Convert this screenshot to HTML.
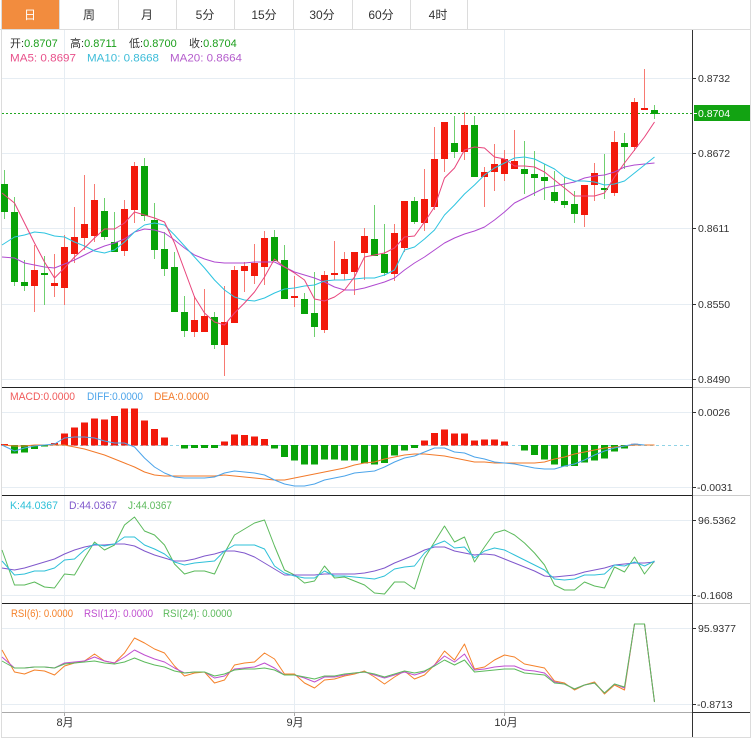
<!DOCTYPE html>
<html><head><meta charset="utf-8"><style>
html,body{margin:0;padding:0;background:#fff;width:755px;height:742px;overflow:hidden}
svg{display:block}
text{font-family:"Liberation Sans","Noto Sans CJK SC",sans-serif}
</style></head><body>
<svg width="755" height="742" viewBox="0 0 755 742" xmlns="http://www.w3.org/2000/svg">
<rect x="0" y="0" width="755" height="742" fill="#fff"/>
<!-- tabs -->
<rect x="1" y="0" width="58" height="29" fill="#f28c3e"/>
<g stroke="#dcdcdc" stroke-width="1" shape-rendering="crispEdges">
<line x1="59.5" y1="0" x2="59.5" y2="29"/><line x1="118.5" y1="0" x2="118.5" y2="29"/>
<line x1="176.5" y1="0" x2="176.5" y2="29"/><line x1="234.5" y1="0" x2="234.5" y2="29"/>
<line x1="293.5" y1="0" x2="293.5" y2="29"/><line x1="352.5" y1="0" x2="352.5" y2="29"/>
<line x1="410.5" y1="0" x2="410.5" y2="29"/><line x1="467.5" y1="0" x2="467.5" y2="29"/>
<line x1="0" y1="29.5" x2="751" y2="29.5"/>
<line x1="1.5" y1="0" x2="1.5" y2="738"/>
<line x1="750.5" y1="0" x2="750.5" y2="738"/>
<line x1="1" y1="737.5" x2="751" y2="737.5"/>
</g>
<g font-size="12" fill="#333" text-anchor="middle">
<text x="30" y="19" fill="#fff">日</text><text x="89" y="19">周</text><text x="147" y="19">月</text>
<text x="205" y="19">5分</text><text x="264" y="19">15分</text><text x="322" y="19">30分</text>
<text x="381" y="19">60分</text><text x="438" y="19">4时</text>
</g>
<!-- grid -->
<g stroke="#e6edf3" stroke-width="1" shape-rendering="crispEdges">
<line x1="64.5" y1="30" x2="64.5" y2="712"/><line x1="294.5" y1="30" x2="294.5" y2="712"/><line x1="504.5" y1="30" x2="504.5" y2="712"/>
<line x1="2" y1="78.5" x2="692" y2="78.5"/><line x1="2" y1="153.5" x2="692" y2="153.5"/><line x1="2" y1="228.5" x2="692" y2="228.5"/>
<line x1="2" y1="304.5" x2="692" y2="304.5"/><line x1="2" y1="379.5" x2="692" y2="379.5"/>
<line x1="2" y1="412.5" x2="692" y2="412.5"/><line x1="2" y1="487.5" x2="692" y2="487.5"/>
<line x1="2" y1="520.5" x2="692" y2="520.5"/><line x1="2" y1="595.5" x2="692" y2="595.5"/>
<line x1="2" y1="628.5" x2="692" y2="628.5"/><line x1="2" y1="704.5" x2="692" y2="704.5"/>
</g>
<!-- header text -->
<g font-size="11">
<text x="10" y="47" fill="#333">开:<tspan fill="#1a9e1a">0.8707</tspan></text>
<text x="70" y="47" fill="#333">高:<tspan fill="#1a9e1a">0.8711</tspan></text>
<text x="129" y="47" fill="#333">低:<tspan fill="#1a9e1a">0.8700</tspan></text>
<text x="189" y="47" fill="#333">收:<tspan fill="#1a9e1a">0.8704</tspan></text>
<text x="10" y="61.5" fill="#e8508a" textLength="66" lengthAdjust="spacingAndGlyphs">MA5: 0.8697</text>
<text x="87" y="61.5" fill="#3cbcd8" textLength="72" lengthAdjust="spacingAndGlyphs">MA10: 0.8668</text>
<text x="170" y="61.5" fill="#b45ccc" textLength="72" lengthAdjust="spacingAndGlyphs">MA20: 0.8664</text>
<text x="10" y="400" fill="#f05a5a" textLength="65" lengthAdjust="spacingAndGlyphs">MACD:0.0000</text>
<text x="87" y="400" fill="#4ca4ea" textLength="56" lengthAdjust="spacingAndGlyphs">DIFF:0.0000</text>
<text x="154" y="400" fill="#f27a2a" textLength="55" lengthAdjust="spacingAndGlyphs">DEA:0.0000</text>
<text x="10" y="509" fill="#2ec0d8" textLength="48" lengthAdjust="spacingAndGlyphs">K:44.0367</text>
<text x="69" y="509" fill="#8058cc" textLength="48" lengthAdjust="spacingAndGlyphs">D:44.0367</text>
<text x="128" y="509" fill="#5cba5c" textLength="44" lengthAdjust="spacingAndGlyphs">J:44.0367</text>
<text x="11" y="617" fill="#f5822a" textLength="62" lengthAdjust="spacingAndGlyphs">RSI(6): 0.0000</text>
<text x="84" y="617" fill="#c050d0" textLength="69" lengthAdjust="spacingAndGlyphs">RSI(12): 0.0000</text>
<text x="163" y="617" fill="#5cba5c" textLength="69" lengthAdjust="spacingAndGlyphs">RSI(24): 0.0000</text>
</g>
<!-- price line -->
<line x1="2" y1="113.5" x2="692" y2="113.5" stroke="#22a822" stroke-width="1" stroke-dasharray="2,2"/>
<!-- candles wicks -->
<g stroke="#f77a72" stroke-width="1" shape-rendering="crispEdges">
<line x1="34.5" y1="245" x2="34.5" y2="312"/><line x1="54.5" y1="254" x2="54.5" y2="297"/>
<line x1="64.5" y1="235" x2="64.5" y2="305"/><line x1="74.5" y1="207" x2="74.5" y2="263"/>
<line x1="84.5" y1="175" x2="84.5" y2="250"/><line x1="94.5" y1="184" x2="94.5" y2="242"/>
<line x1="124.5" y1="200" x2="124.5" y2="256"/><line x1="134.5" y1="162" x2="134.5" y2="223"/>
<line x1="194.5" y1="296" x2="194.5" y2="337"/><line x1="204.5" y1="289" x2="204.5" y2="332"/>
<line x1="224.5" y1="286" x2="224.5" y2="376"/><line x1="234.5" y1="266" x2="234.5" y2="323"/>
<line x1="244.5" y1="262" x2="244.5" y2="292"/><line x1="254.5" y1="244" x2="254.5" y2="284"/>
<line x1="264.5" y1="231" x2="264.5" y2="285"/><line x1="294.5" y1="276" x2="294.5" y2="307"/>
<line x1="324.5" y1="271" x2="324.5" y2="333"/><line x1="334.5" y1="241" x2="334.5" y2="280"/>
<line x1="344.5" y1="252" x2="344.5" y2="280"/><line x1="354.5" y1="252" x2="354.5" y2="295"/>
<line x1="364.5" y1="228" x2="364.5" y2="280"/><line x1="394.5" y1="224" x2="394.5" y2="281"/>
<line x1="404.5" y1="201" x2="404.5" y2="252"/><line x1="424.5" y1="169" x2="424.5" y2="231"/>
<line x1="434.5" y1="127" x2="434.5" y2="210"/><line x1="444.5" y1="122" x2="444.5" y2="172"/>
<line x1="464.5" y1="112" x2="464.5" y2="160"/><line x1="484.5" y1="167" x2="484.5" y2="207"/>
<line x1="494.5" y1="144" x2="494.5" y2="191"/><line x1="504.5" y1="150" x2="504.5" y2="181"/>
<line x1="514.5" y1="130" x2="514.5" y2="169"/><line x1="584.5" y1="185" x2="584.5" y2="227"/>
<line x1="594.5" y1="163" x2="594.5" y2="201"/><line x1="614.5" y1="131" x2="614.5" y2="196"/>
<line x1="634.5" y1="98" x2="634.5" y2="151"/><line x1="644.5" y1="69" x2="644.5" y2="110"/>
</g>
<g stroke="#6fcf6f" stroke-width="1" shape-rendering="crispEdges">
<line x1="4.5" y1="170" x2="4.5" y2="219"/><line x1="14.5" y1="197" x2="14.5" y2="286"/>
<line x1="24.5" y1="260" x2="24.5" y2="291"/><line x1="44.5" y1="256" x2="44.5" y2="305"/>
<line x1="104.5" y1="198" x2="104.5" y2="240"/><line x1="114.5" y1="212" x2="114.5" y2="252"/>
<line x1="144.5" y1="158" x2="144.5" y2="221"/><line x1="154.5" y1="203" x2="154.5" y2="259"/>
<line x1="164.5" y1="232" x2="164.5" y2="276"/><line x1="174.5" y1="252" x2="174.5" y2="312"/>
<line x1="184.5" y1="296" x2="184.5" y2="337"/><line x1="214.5" y1="312" x2="214.5" y2="349"/>
<line x1="274.5" y1="230" x2="274.5" y2="261"/><line x1="284.5" y1="245" x2="284.5" y2="299"/>
<line x1="304.5" y1="293" x2="304.5" y2="314"/><line x1="314.5" y1="272" x2="314.5" y2="337"/>
<line x1="374.5" y1="205" x2="374.5" y2="256"/><line x1="384.5" y1="224" x2="384.5" y2="276"/>
<line x1="414.5" y1="197" x2="414.5" y2="224"/><line x1="454.5" y1="116" x2="454.5" y2="158"/>
<line x1="474.5" y1="116" x2="474.5" y2="177"/><line x1="524.5" y1="141" x2="524.5" y2="194"/>
<line x1="534.5" y1="151" x2="534.5" y2="196"/><line x1="544.5" y1="164" x2="544.5" y2="200"/>
<line x1="554.5" y1="171" x2="554.5" y2="203"/><line x1="564.5" y1="177" x2="564.5" y2="208"/>
<line x1="574.5" y1="191" x2="574.5" y2="223"/><line x1="604.5" y1="154" x2="604.5" y2="199"/>
<line x1="624.5" y1="133" x2="624.5" y2="169"/><line x1="654.5" y1="105" x2="654.5" y2="119"/>
</g>
<!-- candle bodies -->
<g fill="#f2190b" shape-rendering="crispEdges">
<rect x="31" y="270" width="7" height="16"/><rect x="51" y="283" width="7" height="3"/>
<rect x="61" y="247" width="7" height="41"/><rect x="71" y="237" width="7" height="17"/>
<rect x="81" y="224" width="7" height="14"/><rect x="91" y="200" width="7" height="36"/>
<rect x="121" y="209" width="7" height="42"/><rect x="131" y="166" width="7" height="44"/>
<rect x="191" y="320" width="7" height="12"/><rect x="201" y="316" width="7" height="16"/>
<rect x="221" y="322" width="7" height="23"/><rect x="231" y="270" width="7" height="53"/>
<rect x="241" y="266" width="7" height="5"/><rect x="251" y="263" width="7" height="13"/>
<rect x="261" y="238" width="7" height="29"/><rect x="291" y="296" width="7" height="2"/>
<rect x="321" y="275" width="7" height="55"/><rect x="331" y="273" width="7" height="2"/>
<rect x="341" y="259" width="7" height="15"/><rect x="351" y="252" width="7" height="20"/>
<rect x="361" y="236" width="7" height="17"/><rect x="391" y="233" width="7" height="41"/>
<rect x="401" y="201" width="7" height="47"/><rect x="421" y="199" width="7" height="24"/>
<rect x="431" y="159" width="7" height="48"/><rect x="441" y="122" width="7" height="37"/>
<rect x="461" y="125" width="7" height="27"/><rect x="481" y="172" width="7" height="5"/>
<rect x="491" y="164" width="7" height="8"/><rect x="501" y="159" width="7" height="15"/>
<rect x="511" y="161" width="7" height="8"/><rect x="581" y="185" width="7" height="30"/>
<rect x="591" y="173" width="7" height="12"/><rect x="611" y="142" width="7" height="51"/>
<rect x="631" y="102" width="7" height="45"/><rect x="641" y="108" width="7" height="2"/>
</g>
<g fill="#08a308" shape-rendering="crispEdges">
<rect x="1" y="184" width="7" height="28"/><rect x="11" y="212" width="7" height="70"/>
<rect x="21" y="282" width="7" height="4"/><rect x="41" y="273" width="7" height="2"/>
<rect x="101" y="211" width="7" height="26"/><rect x="111" y="242" width="7" height="10"/>
<rect x="141" y="166" width="7" height="50"/><rect x="151" y="220" width="7" height="30"/>
<rect x="161" y="249" width="7" height="20"/><rect x="171" y="267" width="7" height="45"/>
<rect x="181" y="312" width="7" height="19"/><rect x="211" y="317" width="7" height="28"/>
<rect x="271" y="237" width="7" height="24"/><rect x="281" y="260" width="7" height="39"/>
<rect x="301" y="299" width="7" height="15"/><rect x="311" y="313" width="7" height="14"/>
<rect x="371" y="239" width="7" height="17"/><rect x="381" y="254" width="7" height="19"/>
<rect x="411" y="201" width="7" height="21"/><rect x="451" y="143" width="7" height="9"/>
<rect x="471" y="125" width="7" height="52"/><rect x="521" y="169" width="7" height="5"/>
<rect x="531" y="174" width="7" height="4"/><rect x="541" y="177" width="7" height="4"/>
<rect x="551" y="192" width="7" height="9"/><rect x="561" y="201" width="7" height="4"/>
<rect x="571" y="204" width="7" height="10"/><rect x="601" y="188" width="7" height="2"/>
<rect x="621" y="143" width="7" height="4"/><rect x="651" y="110" width="7" height="4"/>
</g>
<!-- MA lines -->
<g fill="none" stroke-width="1" stroke-linejoin="round">
<polyline stroke="#b04ad0" points="2,257 14.5,258 24.5,263 34.5,265 44.5,267 54.5,268 64.5,264 74.5,260 84.5,255 94.5,250 104.5,246 114.5,243 124.5,239 134.5,232 144.5,229 154.5,230 164.5,233 174.5,240 184.5,248 194.5,255 204.5,259 214.5,262 224.5,263 234.5,263 244.5,263 254.5,262 264.5,262 274.5,262 284.5,267 294.5,272 304.5,275 314.5,278 324.5,282 334.5,287 344.5,290 354.5,290 364.5,288 374.5,285 384.5,282 394.5,278 404.5,270 414.5,263 424.5,257 434.5,250 444.5,243 454.5,238 464.5,234 474.5,231 484.5,227 494.5,220 504.5,212 514.5,203 524.5,198 534.5,193 544.5,188 554.5,186 564.5,184 574.5,182 584.5,178 594.5,176 604.5,175 614.5,172 624.5,167 634.5,165 644.5,164 654.5,163"/>
<polyline stroke="#2ec4e0" points="2,245 14.5,237 24.5,235 34.5,232 44.5,233 54.5,236 64.5,237 74.5,242 84.5,246 94.5,251 104.5,253 114.5,250 124.5,242 134.5,232 144.5,225 154.5,223 164.5,225 174.5,235 184.5,246 194.5,257 204.5,268 214.5,280 224.5,290 234.5,297 244.5,300 254.5,301 264.5,298 274.5,293 284.5,289 294.5,288 304.5,286 314.5,285 324.5,281 334.5,280 344.5,280 354.5,279 364.5,278 374.5,278 384.5,275 394.5,270 404.5,250 414.5,247 424.5,239 434.5,230 444.5,215 454.5,205 464.5,194 474.5,185 484.5,175 494.5,168 504.5,163 514.5,158 524.5,157 534.5,159 544.5,164 554.5,169 564.5,177 574.5,181 584.5,181 594.5,182 604.5,185 614.5,184 624.5,181 634.5,173 644.5,165 654.5,157"/>
<polyline stroke="#e8447c" points="2,193 4.5,195 14.5,203 24.5,223 34.5,243 44.5,262 54.5,278 64.5,268 74.5,257 84.5,248 94.5,238 104.5,229 114.5,229 124.5,223 134.5,212 144.5,215 154.5,218 164.5,222 174.5,243 184.5,270 194.5,297 204.5,313 214.5,322 224.5,325 234.5,313 244.5,303 254.5,292 264.5,277 274.5,259 284.5,267 294.5,273 304.5,280 314.5,299 324.5,301 334.5,297 344.5,290 354.5,277 364.5,257 374.5,255 384.5,253 394.5,248 404.5,237 414.5,236 424.5,222 434.5,207 444.5,178 454.5,168 464.5,150 474.5,147 484.5,148 494.5,157 504.5,159 514.5,166 524.5,166 534.5,167 544.5,172 554.5,180 564.5,188 574.5,196 584.5,196 594.5,196 604.5,193 614.5,177 624.5,163 634.5,150 644.5,137 654.5,122"/>
</g>
<!-- MACD -->
<line x1="2" y1="445.5" x2="692" y2="445.5" stroke="#8fd3e6" stroke-width="1" stroke-dasharray="3,3"/>
<g fill="#f2190b" shape-rendering="crispEdges">
<rect x="1" y="444" width="7" height="1.5"/><rect x="51" y="443" width="7" height="2.5"/>
<rect x="61" y="433.3" width="7" height="12.2"/><rect x="71" y="427.7" width="7" height="17.8"/>
<rect x="81" y="422.7" width="7" height="22.8"/><rect x="91" y="418.7" width="7" height="26.8"/>
<rect x="101" y="419.7" width="7" height="25.8"/><rect x="111" y="416" width="7" height="29.5"/>
<rect x="121" y="408.7" width="7" height="36.8"/><rect x="131" y="408.7" width="7" height="36.8"/>
<rect x="141" y="420.3" width="7" height="25.2"/><rect x="151" y="429" width="7" height="16.5"/>
<rect x="161" y="437.3" width="7" height="8.2"/>
<rect x="221" y="441.7" width="7" height="3.8"/><rect x="231" y="434.7" width="7" height="10.8"/>
<rect x="241" y="435" width="7" height="10.5"/><rect x="251" y="436.7" width="7" height="8.8"/>
<rect x="261" y="439" width="7" height="6.5"/>
<rect x="421" y="440.7" width="7" height="4.8"/><rect x="431" y="433" width="7" height="12.5"/>
<rect x="441" y="429.7" width="7" height="15.8"/><rect x="451" y="433.7" width="7" height="11.8"/>
<rect x="461" y="433.7" width="7" height="11.8"/><rect x="471" y="440.7" width="7" height="4.8"/>
<rect x="481" y="439.7" width="7" height="5.8"/><rect x="491" y="439.7" width="7" height="5.8"/>
<rect x="501" y="441.7" width="7" height="3.8"/>
<rect x="631" y="443.7" width="7" height="1.8" fill="#f4a0a0"/>
</g>
<g fill="#08a308" shape-rendering="crispEdges">
<rect x="11" y="445" width="7" height="8.7"/><rect x="21" y="445" width="7" height="7.3"/>
<rect x="31" y="445" width="7" height="4"/><rect x="41" y="445" width="7" height="1.3"/>
<rect x="181" y="445" width="7" height="3.3"/><rect x="191" y="445" width="7" height="3"/>
<rect x="201" y="445" width="7" height="3"/><rect x="211" y="445" width="7" height="3"/>
<rect x="271" y="445" width="7" height="3.3"/><rect x="281" y="445" width="7" height="12"/>
<rect x="291" y="445" width="7" height="15.3"/><rect x="301" y="445" width="7" height="19.7"/>
<rect x="311" y="445" width="7" height="19.7"/><rect x="321" y="445" width="7" height="14.3"/>
<rect x="331" y="445" width="7" height="14.7"/><rect x="341" y="445" width="7" height="15.7"/>
<rect x="351" y="445" width="7" height="15.7"/><rect x="361" y="445" width="7" height="18.3"/>
<rect x="371" y="445" width="7" height="19.7"/><rect x="381" y="445" width="7" height="18"/>
<rect x="391" y="445" width="7" height="10.3"/><rect x="401" y="445" width="7" height="5.3"/>
<rect x="411" y="445" width="7" height="3"/>
<rect x="521" y="445" width="7" height="5.3"/><rect x="531" y="445" width="7" height="10"/>
<rect x="541" y="445" width="7" height="14.7"/><rect x="551" y="445" width="7" height="19.7"/>
<rect x="561" y="445" width="7" height="21.7"/><rect x="571" y="445" width="7" height="21"/>
<rect x="581" y="445" width="7" height="17.3"/><rect x="591" y="445" width="7" height="15.7"/>
<rect x="601" y="445" width="7" height="13.7"/><rect x="611" y="445" width="7" height="6.3"/>
<rect x="621" y="445" width="7" height="3.3"/>
</g>
<g fill="none" stroke-width="1" stroke-linejoin="round">
<polyline stroke="#f27a2a" points="2,445 14.5,446 24.5,446 34.5,445 44.5,445 54.5,445 64.5,445 74.5,447 84.5,449 94.5,452 104.5,455 114.5,459 124.5,463 134.5,467 144.5,472 154.5,475 164.5,476 174.5,476 184.5,476 194.5,476 204.5,476 214.5,476 224.5,475 234.5,476 244.5,477 254.5,478 264.5,479 274.5,480 284.5,480 294.5,478 304.5,476 314.5,474 324.5,472 334.5,470 344.5,468 354.5,465 364.5,463 374.5,462 384.5,459 394.5,457 404.5,455 414.5,454 424.5,454 434.5,455 444.5,456 454.5,458 464.5,460 474.5,462 484.5,462 494.5,463 504.5,463 514.5,463 524.5,463 534.5,463 544.5,462 554.5,459 564.5,457 574.5,454 584.5,452 594.5,450 604.5,448 614.5,447 624.5,446 634.5,445 644.5,445 654.5,445"/>
<polyline stroke="#4ca4ea" points="2,445 14.5,451 24.5,448 34.5,446 44.5,445 54.5,444 64.5,438 74.5,437 84.5,437 94.5,438 104.5,441 114.5,443 124.5,443 134.5,447 144.5,458 154.5,467 164.5,473 174.5,477 184.5,478 194.5,478 204.5,478 214.5,477 224.5,473 234.5,471 244.5,472 254.5,473 264.5,475 274.5,480 284.5,484 294.5,486 304.5,486 314.5,484 324.5,480 334.5,478 344.5,476 354.5,473 364.5,472 374.5,471 384.5,467 394.5,462 404.5,458 414.5,456 424.5,452 434.5,448 444.5,448 454.5,452 464.5,453 474.5,457 484.5,459 494.5,462 504.5,463 514.5,464 524.5,466 534.5,468 544.5,469 554.5,469 564.5,466 574.5,464 584.5,460 594.5,455 604.5,451 614.5,448 624.5,446 634.5,444 644.5,445"/>
</g>
<!-- KDJ -->
<g fill="none" stroke-width="1" stroke-linejoin="round">
<polyline stroke="#5cba5c" points="2,550 14.5,585 24.5,585 34.5,582 44.5,587 54.5,588 64.5,574 74.5,575 84.5,558 94.5,542 104.5,550 114.5,545 124.5,525 134.5,517 144.5,531 154.5,535 164.5,545 174.5,564 184.5,574 194.5,571 204.5,571 214.5,574 224.5,553 234.5,535 244.5,529 254.5,523 264.5,520 274.5,546 284.5,570 294.5,575 304.5,583 314.5,581 324.5,566 334.5,578 344.5,577 354.5,581 364.5,585 374.5,593 384.5,594 394.5,582 404.5,582 414.5,589 424.5,558 434.5,542 444.5,526 454.5,542 464.5,537 474.5,562 484.5,547 494.5,533 504.5,530 514.5,535 524.5,543 534.5,553 544.5,565 554.5,585 564.5,590 574.5,590 584.5,582 594.5,586 604.5,588 614.5,567 624.5,572 634.5,557 644.5,574 654.5,561"/>
<polyline stroke="#8058cc" points="2,568 14.5,570 24.5,568 34.5,565 44.5,562 54.5,559 64.5,554 74.5,550 84.5,547 94.5,545 104.5,545 114.5,544 124.5,544 134.5,546 144.5,551 154.5,555 164.5,558 174.5,561 184.5,561 194.5,559 204.5,556 214.5,554 224.5,551 234.5,551 244.5,553 254.5,557 264.5,563 274.5,569 284.5,575 294.5,575 304.5,575 314.5,575 324.5,574 334.5,574 344.5,574 354.5,574 364.5,573 374.5,571 384.5,568 394.5,563 404.5,559 414.5,555 424.5,550 434.5,547 444.5,547 454.5,551 464.5,553 474.5,555 484.5,554 494.5,555 504.5,559 514.5,563 524.5,567 534.5,571 544.5,576 554.5,577 564.5,576 574.5,575 584.5,572 594.5,570 604.5,568 614.5,565 624.5,564 634.5,563 644.5,563 654.5,562"/>
<polyline stroke="#2ec0d8" points="2,561 14.5,575 24.5,574 34.5,571 44.5,571 54.5,568 64.5,560 74.5,559 84.5,550 94.5,544 104.5,546 114.5,544 124.5,537 134.5,537 144.5,545 154.5,549 164.5,554 174.5,562 184.5,565 194.5,563 204.5,562 214.5,561 224.5,551 234.5,545 244.5,545 254.5,545 264.5,549 274.5,566 284.5,573 294.5,576 304.5,578 314.5,578 324.5,571 334.5,576 344.5,576 354.5,577 364.5,578 374.5,579 384.5,576 394.5,569 404.5,567 414.5,566 424.5,553 434.5,545 444.5,541 454.5,548 464.5,547 474.5,558 484.5,551 494.5,548 504.5,550 514.5,555 524.5,560 534.5,565 544.5,570 554.5,579 564.5,580 574.5,579 584.5,575 594.5,575 604.5,574 614.5,565 624.5,566 634.5,562 644.5,566 654.5,561"/>
</g>
<!-- RSI -->
<g fill="none" stroke-width="1" stroke-linejoin="round">
<polyline stroke="#f5822a" points="2,650 14.5,672 24.5,674 34.5,670 44.5,671 54.5,675 64.5,666 74.5,663 84.5,661 94.5,654 104.5,661 114.5,663 124.5,653 134.5,638 144.5,643 154.5,649 164.5,653 174.5,666 184.5,676 194.5,673 204.5,672 214.5,683 224.5,680 234.5,665 244.5,663 254.5,662 264.5,653 274.5,659 284.5,674 294.5,674 304.5,683 314.5,688 324.5,680 334.5,679 344.5,676 354.5,674 364.5,671 374.5,677 384.5,684 394.5,677 404.5,671 414.5,679 424.5,675 434.5,665 444.5,651 454.5,660 464.5,644 474.5,669 484.5,667 494.5,660 504.5,655 514.5,657 524.5,664 534.5,666 544.5,668 554.5,681 564.5,683 574.5,690 584.5,685 594.5,682 604.5,694 614.5,685 624.5,690 634.5,624 644.5,624 654.5,702"/>
<polyline stroke="#c050d0" points="2,657 14.5,668 24.5,668 34.5,667 44.5,667 54.5,668 64.5,663 74.5,662 84.5,661 94.5,657 104.5,661 114.5,663 124.5,657 134.5,650 144.5,655 154.5,659 164.5,662 174.5,668 184.5,673 194.5,672 204.5,672 214.5,678 224.5,676 234.5,669 244.5,668 254.5,667 264.5,663 274.5,668 284.5,675 294.5,675 304.5,678 314.5,682 324.5,677 334.5,677 344.5,675 354.5,673 364.5,672 374.5,675 384.5,678 394.5,675 404.5,672 414.5,675 424.5,672 434.5,665 444.5,656 454.5,662 464.5,654 474.5,670 484.5,669 494.5,667 504.5,666 514.5,666 524.5,670 534.5,671 544.5,673 554.5,682 564.5,684 574.5,689 584.5,685 594.5,683 604.5,693 614.5,684 624.5,688 634.5,624 644.5,624 654.5,702"/>
<polyline stroke="#5cba5c" points="2,661 14.5,668 24.5,668 34.5,667 44.5,667 54.5,668 64.5,664 74.5,663 84.5,662 94.5,661 104.5,663 114.5,664 124.5,662 134.5,658 144.5,662 154.5,665 164.5,667 174.5,671 184.5,673 194.5,672 204.5,672 214.5,676 224.5,674 234.5,670 244.5,669 254.5,669 264.5,668 274.5,670 284.5,675 294.5,675 304.5,677 314.5,679 324.5,676 334.5,676 344.5,674 354.5,673 364.5,672 374.5,674 384.5,677 394.5,674 404.5,671 414.5,673 424.5,671 434.5,666 444.5,660 454.5,665 464.5,660 474.5,672 484.5,671 494.5,670 504.5,669 514.5,669 524.5,673 534.5,674 544.5,675 554.5,683 564.5,684 574.5,689 584.5,685 594.5,683 604.5,693 614.5,684 624.5,687 634.5,624 644.5,624 654.5,702"/>
</g>
<!-- panel borders & axes -->
<g stroke-width="1" shape-rendering="crispEdges">
<line x1="2" y1="387.5" x2="692" y2="387.5" stroke="#222"/>
<line x1="2" y1="495.5" x2="692" y2="495.5" stroke="#222"/>
<line x1="2" y1="603.5" x2="692" y2="603.5" stroke="#222"/>
<line x1="692" y1="387.5" x2="750" y2="387.5" stroke="#ccc"/>
<line x1="692" y1="495.5" x2="750" y2="495.5" stroke="#ccc"/>
<line x1="692" y1="603.5" x2="750" y2="603.5" stroke="#ccc"/>
<line x1="2" y1="712.5" x2="692" y2="712.5" stroke="#aaa"/>
<line x1="692" y1="712.5" x2="750" y2="712.5" stroke="#333"/>
<line x1="692.5" y1="30" x2="692.5" y2="737" stroke="#333"/>
<line x1="64.5" y1="712" x2="64.5" y2="716" stroke="#aaa"/>
<line x1="294.5" y1="712" x2="294.5" y2="716" stroke="#aaa"/>
<line x1="504.5" y1="712" x2="504.5" y2="716" stroke="#aaa"/>
<g stroke="#333">
<line x1="692" y1="78.5" x2="696" y2="78.5"/><line x1="692" y1="153.5" x2="696" y2="153.5"/>
<line x1="692" y1="228.5" x2="696" y2="228.5"/><line x1="692" y1="304.5" x2="696" y2="304.5"/>
<line x1="692" y1="379.5" x2="696" y2="379.5"/>
<line x1="692" y1="412.5" x2="696" y2="412.5"/><line x1="692" y1="487.5" x2="696" y2="487.5"/>
<line x1="692" y1="520.5" x2="696" y2="520.5"/><line x1="692" y1="595.5" x2="696" y2="595.5"/>
<line x1="692" y1="628.5" x2="696" y2="628.5"/><line x1="692" y1="704.5" x2="696" y2="704.5"/>
</g>
</g>
<!-- price label -->
<rect x="694" y="105" width="56" height="16" fill="#12a312"/>
<line x1="694" y1="113.5" x2="697" y2="113.5" stroke="#fff" stroke-width="1"/>
<text x="698" y="117" font-size="10.5" fill="#fff">0.8704</text>
<g font-size="10.5" fill="#333">
<text x="698" y="82">0.8732</text>
<text x="698" y="157">0.8672</text>
<text x="698" y="232">0.8611</text>
<text x="698" y="308">0.8550</text>
<text x="698" y="383">0.8490</text>
<text x="698" y="416">0.0026</text>
<text x="697" y="491">-0.0031</text>
<text x="698" y="524">96.5362</text>
<text x="697" y="599">-0.1608</text>
<text x="698" y="632">95.9377</text>
<text x="697" y="708">-0.8713</text>
</g>
<g font-size="11" fill="#333" text-anchor="middle">
<text x="65" y="726">8月</text>
<text x="295" y="726">9月</text>
<text x="506" y="726">10月</text>
</g>
</svg>
</body></html>
